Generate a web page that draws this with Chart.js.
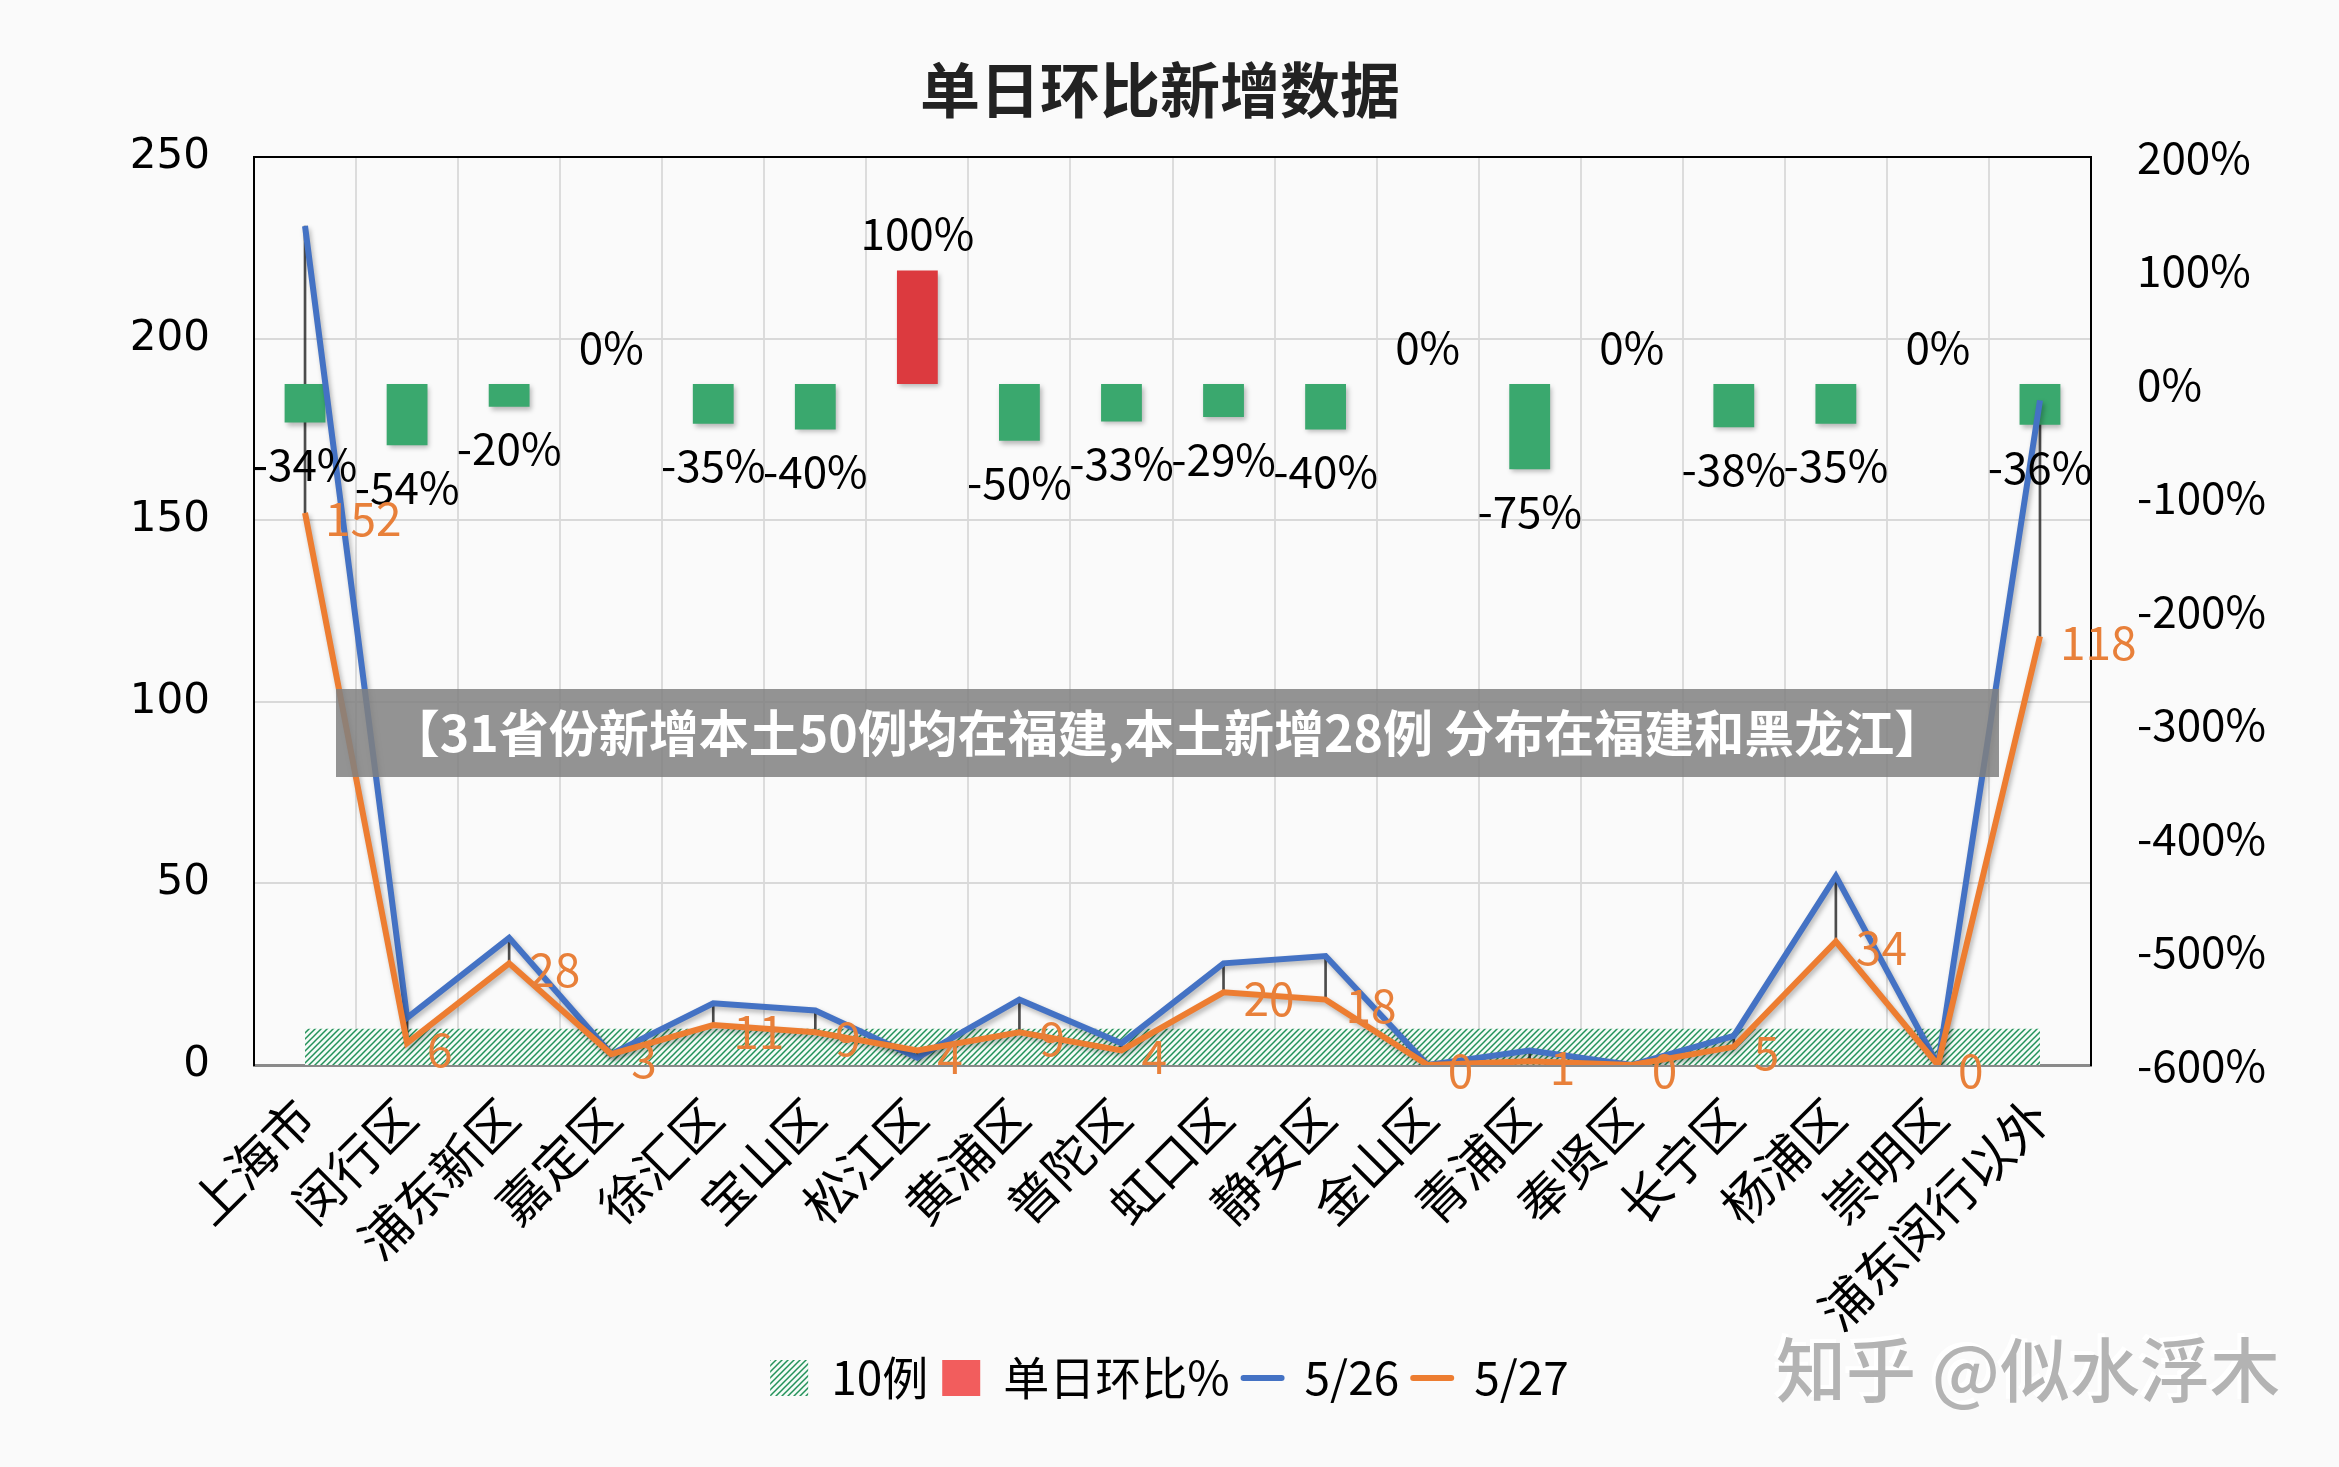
<!DOCTYPE html>
<html>
<head>
<meta charset="utf-8">
<script src="https://cdn.jsdelivr.net/npm/chart.js@4.4.0/dist/chart.umd.min.js"></script>
<style>
    html, body { margin: 0; padding: 0; background: #fafafa; }
    #wrap { width: 2339px; height: 1467px; }
</style>
</head>
<body>
<div id="wrap"><canvas id="dailyChart" width="2339" height="1467"></canvas></div>
<script>
// 各区数据
const districts = ['上海市', '闵行区', '浦东新区', '嘉定区', '徐汇区', '宝山区', '松江区', '黄浦区', '普陀区',
    '虹口区', '静安区', '金山区', '青浦区', '奉贤区', '长宁区', '杨浦区', '崇明区', '浦东闵行以外'];
const cases0526 = [231, 13, 35, 3, 17, 15, 2, 18, 6, 28, 30, 0, 4, 0, 8, 52, 0, 183];
const cases0527 = [152, 6, 28, 3, 11, 9, 4, 9, 4, 20, 18, 0, 1, 0, 5, 34, 0, 118];
const changePct = [-34, -54, -20, 0, -35, -40, 100, -50, -33, -29, -40, 0, -75, 0, -38, -35, 0, -36];
const tenCases = [10, 10, 10, 10, 10, 10, 10, 10, 10, 10, 10, 10, 10, 10, 10, 10, 10, 10];
const leftTicks = [0, 50, 100, 150, 200, 250];
const pctTicks = [-600, -500, -400, -300, -200, -100, 0, 100, 200];

const CJK = '"Noto Sans CJK SC", "Noto Sans", sans-serif';
const BLUE = '#4472c4';
const ORANGE = '#ed7d31';
const GREEN = '#3aa86e';
const RED = '#dc3a3f';

const highLow = cases0526.map((v, i) => [cases0527[i], v]);

function makeHatch(ctx) {
    const c = document.createElement('canvas');
    c.width = 6;
    c.height = 6;
    const g = c.getContext('2d');
    g.fillStyle = '#f4fbf7';
    g.fillRect(0, 0, 6, 6);
    g.strokeStyle = '#23925a';
    g.lineWidth = 1.5;
    g.beginPath();
    g.moveTo(0, 6); g.lineTo(6, 0);
    g.moveTo(-2, 2); g.lineTo(2, -2);
    g.moveTo(4, 8); g.lineTo(8, 4);
    g.stroke();
    return ctx.createPattern(c, 'repeat');
}

// 背景、边框、标签、水印
const decorPlugin = {
    id: 'decor',
    beforeDraw(chart) {
        const ctx = chart.ctx;
        ctx.save();
        ctx.fillStyle = '#fafafa';
        ctx.fillRect(0, 0, chart.width, chart.height);
        ctx.font = `bold 60px ${CJK}`;
        ctx.fillStyle = '#222';
        ctx.textAlign = 'center';
        ctx.textBaseline = 'middle';
        ctx.fillText('单日环比新增数据', 1160, 90);
        ctx.restore();
    },
    beforeDatasetDraw(chart, args) {
        if (chart.data.datasets[args.index].shadowed) {
            chart.ctx.save();
            chart.ctx.shadowColor = 'rgba(0,0,0,0.28)';
            chart.ctx.shadowBlur = 5;
            chart.ctx.shadowOffsetX = 2;
            chart.ctx.shadowOffsetY = 3;
        }
    },
    afterDatasetDraw(chart, args) {
        if (chart.data.datasets[args.index].shadowed) chart.ctx.restore();
    },
    afterDatasetsDraw(chart) {
        const ctx = chart.ctx;
        const x = chart.scales.x, y = chart.scales.y, y1 = chart.scales.y1;
        const area = chart.chartArea;
        ctx.save();
        ctx.strokeStyle = '#000';
        ctx.lineWidth = 2;
        ctx.beginPath();
        ctx.moveTo(area.left, area.top);
        ctx.lineTo(area.right, area.top);
        ctx.stroke();

        ctx.textBaseline = 'middle';
        ctx.font = `44px ${CJK}`;
        ctx.fillStyle = '#000';
        ctx.textAlign = 'center';
        changePct.forEach((v, i) => {
            const px = x.getPixelForValue(i);
            const py = y1.getPixelForValue(v);
            ctx.fillText(v + '%', px, v < 0 ? py + 42 : py - 37);
        });

        ctx.font = `46px ${CJK}`;
        ctx.fillStyle = '#e8803a';
        ctx.textAlign = 'left';
        cases0527.forEach((v, i) => {
            ctx.fillText(String(v), x.getPixelForValue(i) + 20, y.getPixelForValue(v) + 6);
        });
        ctx.restore();
    },
    afterDraw(chart) {
        const ctx = chart.ctx;
        ctx.save();
        ctx.fillStyle = 'rgba(128,128,128,0.85)';
        ctx.fillRect(336, 689, 1663, 88);
        ctx.font = `bold 50px ${CJK}`;
        ctx.fillStyle = '#ffffff';
        ctx.textAlign = 'center';
        ctx.textBaseline = 'middle';
        ctx.fillText('【31省份新增本土50例均在福建,本土新增28例 分布在福建和黑龙江】', 1167, 733);

        ctx.font = `500 70px ${CJK}`;
        ctx.fillStyle = '#ffffff';
        ctx.fillText('知乎 @似水浮木', 2024, 1366);
        ctx.fillStyle = '#b3b3b3';
        ctx.fillText('知乎 @似水浮木', 2028, 1370);
        ctx.restore();
    }
};

document.addEventListener('DOMContentLoaded', () => {
    const canvas = document.getElementById('dailyChart');
    const hatch = makeHatch(canvas.getContext('2d'));

    new Chart(canvas, {
        type: 'bar',
        data: {
            labels: districts,
            datasets: [
                {
                    type: 'line',
                    label: '10例',
                    data: tenCases,
                    yAxisID: 'y',
                    fill: 'origin',
                    backgroundColor: hatch,
                    borderWidth: 0,
                    pointRadius: 0,
                    order: 5
                },
                {
                    label: '单日环比%',
                    data: changePct,
                    yAxisID: 'y1',
                    backgroundColor: changePct.map(v => v > 0 ? RED : GREEN),
                    borderWidth: 0,
                    barPercentage: 0.4,
                    categoryPercentage: 1,
                    grouped: false,
                    shadowed: true,
                    order: 3
                },
                {
                    label: 'highlow',
                    data: highLow,
                    yAxisID: 'y',
                    backgroundColor: 'rgba(45,45,45,0.85)',
                    barThickness: 2,
                    grouped: false,
                    order: 4
                },
                {
                    type: 'line',
                    label: '5/26',
                    data: cases0526,
                    yAxisID: 'y',
                    borderColor: BLUE,
                    backgroundColor: BLUE,
                    borderWidth: 6,
                    pointRadius: 0,
                    tension: 0,
                    shadowed: true,
                    order: 2
                },
                {
                    type: 'line',
                    label: '5/27',
                    data: cases0527,
                    yAxisID: 'y',
                    borderColor: ORANGE,
                    backgroundColor: ORANGE,
                    borderWidth: 6,
                    pointRadius: 0,
                    tension: 0,
                    shadowed: true,
                    order: 1
                }
            ]
        },
        options: {
            responsive: false,
            animation: false,
            layout: { padding: { top: 157, bottom: 56, left: 0, right: 0 } },
            plugins: {
                title: { display: false },
                tooltip: { enabled: false },
                legend: {
                    position: 'bottom',
                    labels: {
                        usePointStyle: true,
                        pointStyleWidth: 38,
                        boxHeight: 36,
                        padding: 14,
                        color: '#000',
                        font: { family: CJK, size: 46 },
                        generateLabels: () => [
                            { text: '10例', fillStyle: hatch, strokeStyle: GREEN, lineWidth: 0, pointStyle: 'rect', datasetIndex: 0 },
                            { text: '单日环比%', fillStyle: '#f25d5d', strokeStyle: '#f25d5d', lineWidth: 0, pointStyle: 'rect', datasetIndex: 1 },
                            { text: '5/26', fillStyle: BLUE, strokeStyle: BLUE, lineWidth: 6, lineCap: 'round', pointStyle: 'line', datasetIndex: 3 },
                            { text: '5/27', fillStyle: ORANGE, strokeStyle: ORANGE, lineWidth: 6, lineCap: 'round', pointStyle: 'line', datasetIndex: 4 }
                        ]
                    }
                }
            },
            scales: {
                x: {
                    offset: true,
                    grid: { offset: true, color: '#dcdcdc', lineWidth: 2, drawTicks: false },
                    border: { color: '#8a8a8a', width: 3 },
                    ticks: {
                        autoSkip: false,
                        minRotation: 45,
                        maxRotation: 45,
                        padding: 22,
                        color: '#000',
                        font: { family: CJK, size: 50 }
                    },
                    afterFit: scale => { scale.height = 276; }
                },
                y: {
                    position: 'left',
                    min: leftTicks[0],
                    max: leftTicks[leftTicks.length - 1],
                    ticks: {
                        stepSize: 50,
                        padding: 44,
                        color: '#000',
                        font: { family: '"DejaVu Sans", sans-serif', size: 42 }
                    },
                    grid: { color: '#d9d9d9', lineWidth: 2, drawTicks: false },
                    border: { color: '#000', width: 2 },
                    afterFit: scale => { scale.width = 254; }
                },
                y1: {
                    position: 'right',
                    min: pctTicks[0],
                    max: pctTicks[pctTicks.length - 1],
                    ticks: {
                        stepSize: 100,
                        padding: 46,
                        color: '#000',
                        font: { family: CJK, size: 44 },
                        callback: value => `${value}%`
                    },
                    grid: { display: false, drawTicks: false },
                    border: { color: '#000', width: 2 },
                    afterFit: scale => { scale.width = 248; }
                }
            }
        },
        plugins: [decorPlugin]
    });
});
</script>
</body>
</html>
